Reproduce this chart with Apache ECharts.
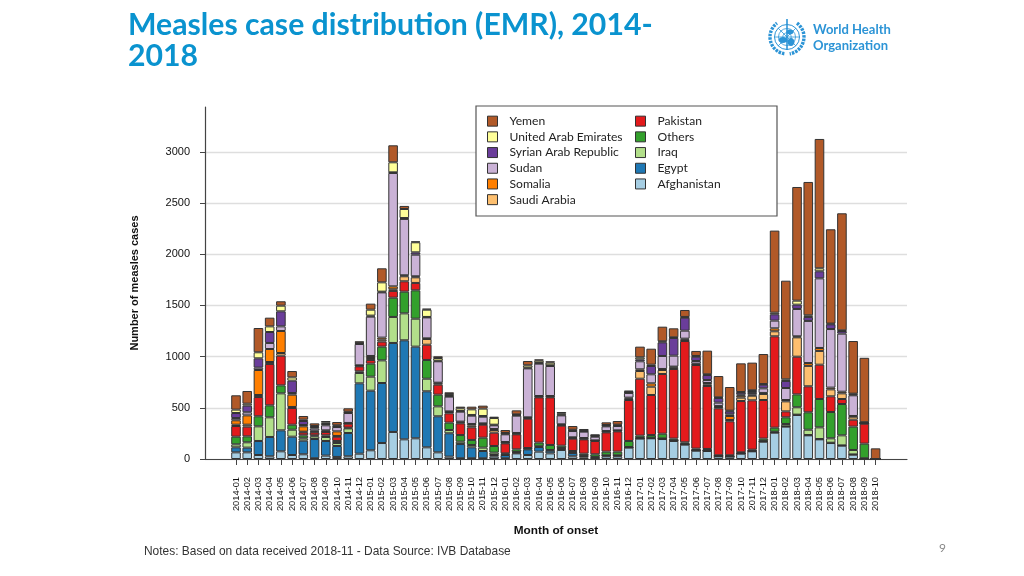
<!DOCTYPE html>
<html>
<head>
<meta charset="utf-8">
<style>html,body{margin:0;padding:0;background:#fff}#c{width:1024px;height:576px}</style>
<script src="https://cdn.jsdelivr.net/npm/echarts@6/dist/echarts.min.js"></script>
</head>
<body>
<div id="c"></div>
<script>
const months = ["2014-01","2014-02","2014-03","2014-04","2014-05","2014-06","2014-07","2014-08","2014-09","2014-10","2014-11","2014-12",
"2015-01","2015-02","2015-03","2015-04","2015-05","2015-06","2015-07","2015-08","2015-09","2015-10","2015-11","2015-12",
"2016-01","2016-02","2016-03","2016-04","2016-05","2016-06","2016-07","2016-08","2016-09","2016-10","2016-11","2016-12",
"2017-01","2017-02","2017-03","2017-04","2017-05","2017-06","2017-07","2017-08","2017-09","2017-10","2017-11","2017-12",
"2018-01","2018-02","2018-03","2018-04","2018-05","2018-06","2018-07","2018-08","2018-09","2018-10"];
const yTicks = [0,500,1000,1500,2000,2500,3000];
const afghanistan = [65,65,39,26,75,39,46,7,33,20,26,52,85,156,264,192,202,114,65,23,7,7,7,23,7,55,39,72,55,88,26,16,7,26,26,111,199,202,195,176,140,81,78,26,23,52,75,169,257,316,430,231,192,156,130,42,3,0];
const egypt = [49,46,137,189,205,179,133,188,143,107,228,687,582,586,869,967,895,547,352,228,139,107,71,16,32,7,55,45,26,13,33,13,6,7,7,3,3,3,3,3,3,3,3,3,3,3,3,3,3,3,3,3,3,3,3,3,2,0];
const iraq = [29,52,143,192,361,68,23,26,39,29,45,101,137,221,254,263,273,123,97,32,23,23,33,23,7,6,7,7,7,6,6,7,7,3,3,3,3,3,3,3,3,3,3,3,3,3,3,3,6,23,72,52,114,43,98,43,2,0];
const others = [75,58,98,117,78,49,29,10,16,20,7,16,127,134,188,212,277,183,114,72,65,49,97,65,9,26,6,36,49,23,13,16,26,36,36,59,23,26,46,17,17,14,14,4,7,7,10,24,40,65,126,170,277,257,306,228,143,0];
const pakistan = [104,95,188,404,290,163,29,29,33,42,39,49,36,49,66,101,72,149,98,91,114,123,127,130,98,147,287,442,465,196,121,140,130,188,198,400,556,391,583,680,989,817,615,459,332,501,482,377,892,58,368,254,335,153,49,68,195,0];
const saudiArabia = [13,19,20,19,26,10,7,7,6,7,3,6,19,19,16,49,55,56,13,13,10,17,7,26,7,6,7,7,7,6,6,6,3,7,7,13,75,81,39,16,13,6,16,13,13,33,45,59,49,98,189,199,134,68,55,29,2,0];
const somalia = [43,91,244,127,215,120,52,10,10,45,4,4,20,20,29,10,10,6,6,6,7,16,6,10,6,7,6,6,6,7,7,7,3,6,3,10,17,33,10,7,10,7,13,10,39,19,10,10,29,13,10,28,29,17,16,7,2,0];
const sudan = [22,30,23,59,45,16,13,22,49,42,97,208,384,442,1107,550,211,205,209,144,97,81,65,36,75,169,478,316,293,87,61,62,36,46,42,46,78,88,127,107,78,26,29,32,16,10,17,45,75,117,267,411,680,572,567,202,4,0];
const syria = [49,65,91,107,147,121,39,13,13,7,7,7,10,7,6,9,23,4,6,6,7,7,7,6,6,7,7,6,7,7,7,6,7,7,7,6,19,81,133,173,127,42,49,46,29,20,19,36,62,69,42,39,69,46,26,9,3,0];
const uae = [33,19,59,55,55,32,13,10,16,10,6,6,58,91,98,88,98,71,26,20,26,55,72,65,7,6,23,23,26,13,6,7,6,6,6,6,20,13,10,6,7,7,7,6,7,6,7,6,16,16,39,16,29,7,6,7,3,0];
const yemen = [140,124,237,85,43,62,36,26,13,32,33,13,59,137,166,30,9,10,17,16,16,26,29,13,29,39,42,13,13,13,36,13,7,26,36,10,104,156,143,88,68,49,231,208,231,280,270,293,801,963,1110,1302,1263,921,1143,514,629,104];

const stackOrder = [
  ["Afghanistan", afghanistan, "#a6cee3"],
  ["Egypt", egypt, "#1f78b4"],
  ["Iraq", iraq, "#b2df8a"],
  ["Others", others, "#33a02c"],
  ["Pakistan", pakistan, "#e31a1c"],
  ["Saudi Arabia", saudiArabia, "#fdbf6f"],
  ["Somalia", somalia, "#ff7f00"],
  ["Sudan", sudan, "#cab2d6"],
  ["Syrian Arab Republic", syria, "#6a3d9a"],
  ["United Arab Emirates", uae, "#ffff99"],
  ["Yemen", yemen, "#b15928"]
];
const legendLeft = ["Yemen","United Arab Emirates","Syrian Arab Republic","Sudan","Somalia","Saudi Arabia"];
const legendRight = ["Pakistan","Others","Iraq","Egypt","Afghanistan"];

const yTop = 3437;
const blue = "#2c94d6";
const legendBase = {
  orient: "vertical", top: 114, itemWidth: 10, itemHeight: 10, itemGap: 1.4,
  icon: "rect", z: 200, selectedMode: false, padding: 0,
  textStyle: {fontFamily: "Lato", fontSize: 12.1, lineHeight: 14.3, color: "#222", padding: [0,0,0,7]},
  itemStyle: {borderColor: "#333", borderWidth: 1}
};
const cx = 787, cy = 37;
const em = {stroke: blue, fill: null, lineWidth: 1};
const emblem = [
  {type:"circle", shape:{cx,cy,r:12.5}, style:em},
  {type:"circle", shape:{cx,cy,r:8.5}, style:{...em,lineWidth:.8}},
  {type:"circle", shape:{cx,cy,r:4.2}, style:{...em,lineWidth:.8}},
  {type:"line", shape:{x1:cx-12.5,y1:cy,x2:cx+12.5,y2:cy}, style:{...em,lineWidth:.8}},
  {type:"line", shape:{x1:cx,y1:cy-18,x2:cx,y2:cy+13}, style:{...em,lineWidth:1.6}},
  {type:"line", shape:{x1:cx-9,y1:cy-9,x2:cx+9,y2:cy+9}, style:{...em,lineWidth:.8}},
  {type:"line", shape:{x1:cx+9,y1:cy-9,x2:cx-9,y2:cy+9}, style:{...em,lineWidth:.8}},
  {type:"ellipse", shape:{cx:cx-4,cy:cy+3,rx:4.5,ry:3}, style:{fill:blue}},
  {type:"ellipse", shape:{cx:cx+4,cy:cy+5,rx:3.5,ry:4}, style:{fill:blue}},
  {type:"ellipse", shape:{cx:cx+3,cy:cy-5,rx:3.5,ry:2.5}, style:{fill:blue}},
  {type:"arc", shape:{cx,cy,r:17,startAngle:Math.PI*0.55,endAngle:Math.PI*1.3,clockwise:true}, style:{stroke:blue,fill:null,lineWidth:3.4,lineDash:[2.5,1]}},
  {type:"arc", shape:{cx,cy,r:17,startAngle:-Math.PI*0.3,endAngle:Math.PI*0.45,clockwise:true}, style:{stroke:blue,fill:null,lineWidth:3.4,lineDash:[2.5,1]}}
];

const option = {
  backgroundColor: "#fff",
  animation: false,
  title: {
    text: "Measles case distribution (EMR), 2014-\n2018",
    left: 128, top: 10, padding: 0,
    textStyle: {fontFamily: "Lato", fontWeight: "bold", fontSize: 30.2, lineHeight: 31, color: "#0a93cf"}
  },
  legend: [
    {...legendBase, left: 487, data: legendLeft},
    {...legendBase, left: 635, data: legendRight}
  ],
  grid: [
    {left: 205, top: 107, width: 702, height: 352},
    {left: 230.4, top: 107, width: 650.8, height: 352}
  ],
  xAxis: [
    {gridIndex: 0, type: "value", min: 0, max: 1, splitLine: {show: false},
     axisLine: {show: true, lineStyle: {color: "#444", width: 1.2}}, axisTick: {show: false}, axisLabel: {show: false},
     name: "Month of onset", nameLocation: "middle", nameGap: 66,
     nameTextStyle: {fontFamily: "Liberation Sans", fontWeight: "bold", fontSize: 11.8, color: "#111"}},
    {gridIndex: 1, type: "category", data: months, axisLine: {show: false},
     axisTick: {show: true, alignWithLabel: true, length: 6, lineStyle: {color: "#444"}},
     axisLabel: {interval: 0, rotate: 90, fontFamily: "Liberation Sans", fontSize: 9.3, color: "#111", margin: 18}}
  ],
  yAxis: [
    {gridIndex: 0, type: "value", min: 0, max: yTop,
     axisLine: {show: true, lineStyle: {color: "#444", width: 1.2}},
     axisTick: {show: true, length: 5, customValues: yTicks, lineStyle: {color: "#444"}},
     axisLabel: {fontFamily: "Liberation Sans", fontSize: 11, color: "#111", margin: 15, customValues: yTicks,
       formatter: v => String(v)},
     splitLine: {show: true, lineStyle: {color: "#dedede", width: 1.3}},
     name: "Number of measles cases", nameLocation: "middle", nameGap: 65, nameRotate: 90,
     nameTextStyle: {fontFamily: "Liberation Sans", fontWeight: "bold", fontSize: 11, color: "#111"}},
    {gridIndex: 1, type: "value", min: 0, max: yTop, show: false, splitLine: {show: false}}
  ],
  graphic: [
    {type: "rect", shape: {x: 476, y: 106, width: 301, height: 110}, z: 100,
     style: {fill: "#fff", stroke: "#555", lineWidth: 1.2}},
    {type: "text", left: 144, top: 546, z: 100,
     style: {text: "Notes: Based on data received 2018-11 - Data Source: IVB Database",
       font: "11.95px 'Liberation Sans'", fill: "#333"}},
    {type: "text", left: 939, top: 542, z: 100,
     style: {text: "9", font: "12px Lato", fill: "#888"}},
    {type: "text", x: 813, y: 21, scaleX: 0.93, z: 100,
     style: {text: "World Health\nOrganization", font: "bold 14px Lato", lineHeight: 16, fill: blue}},
    {type: "group", z: 100, children: emblem}
  ],
  series: stackOrder.map(([name, values, color]) => ({
    name, type: "bar", stack: "cases", xAxisIndex: 1, yAxisIndex: 1,
    data: values, barWidth: 9.6, z: 5,
    itemStyle: {color, borderColor: "#333", borderWidth: 1}
  }))
};
echarts.init(document.getElementById("c"), null, {renderer: "canvas"}).setOption(option);
</script>
</body>
</html>
